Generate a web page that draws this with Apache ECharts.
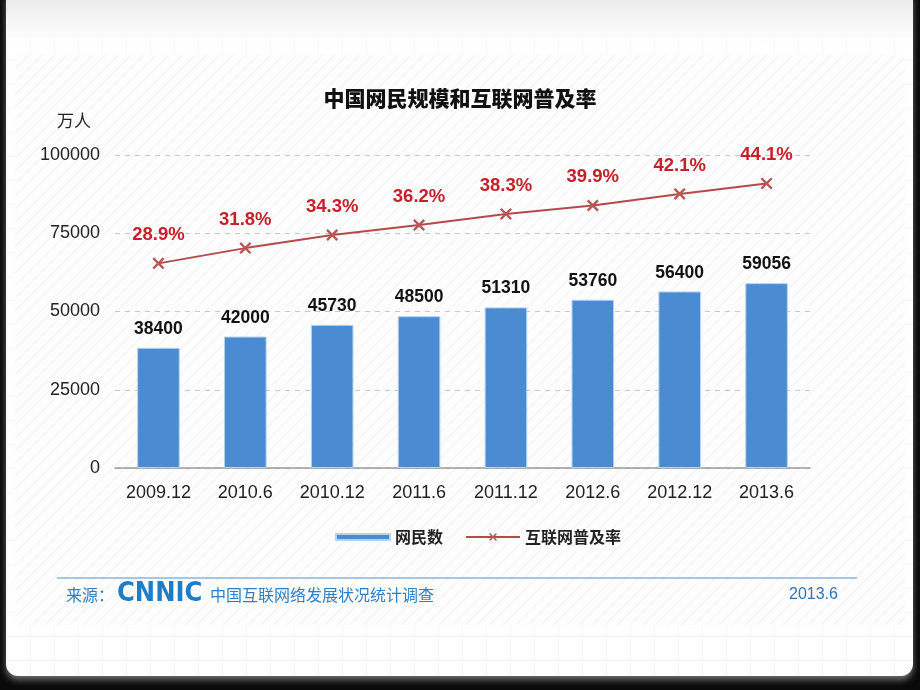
<!DOCTYPE html>
<html><head><meta charset="utf-8">
<script src="https://cdn.jsdelivr.net/npm/echarts@6/dist/echarts.min.js"></script>
<style>
html,body{margin:0;padding:0;width:920px;height:690px;background:#0a0a0a;overflow:hidden;}
#page{position:absolute;left:6px;top:-12px;width:907px;height:688px;border-radius:12px;
 background-color:#fff;
 background-image:linear-gradient(to bottom,#e6e6e6 0px,#fbfbfb 45px,rgba(255,255,255,0) 60px),
  linear-gradient(to right,rgba(0,0,0,0.035) 1px,transparent 1px),
  linear-gradient(to bottom,rgba(0,0,0,0.035) 1px,transparent 1px);
 background-size:100% 100%,24px 24px,24px 24px;
 box-shadow:0 4px 6px rgba(120,120,120,0.9);}
#panel{position:absolute;left:15px;top:55px;width:890px;height:570px;
 background:repeating-linear-gradient(135deg,rgba(0,0,0,0.018) 0px,rgba(0,0,0,0.018) 2px,transparent 2px,transparent 9px),#fdfdfd;}
#chart{position:absolute;left:0;top:0;width:920px;height:690px;}
</style></head>
<body>
<div id="page"></div>
<div id="panel"></div>
<div id="chart"></div>
<script>
const categories = ['2009.12','2010.6','2010.12','2011.6','2011.12','2012.6','2012.12','2013.6'];
const netizens = [38400,42000,45730,48500,51310,53760,56400,59056];
const penetration = [28.9,31.8,34.3,36.2,38.3,39.9,42.1,44.1];
const yTicks = [0,25000,50000,75000,100000];

const cn = '"Noto Sans CJK SC","Noto Sans",sans-serif';
const lat = '"Liberation Sans",Arial,"Noto Sans CJK SC",sans-serif';
const xPath = 'path://M0,1.4L1.4,0L5,3.6L8.6,0L10,1.4L6.4,5L10,8.6L8.6,10L5,6.4L1.4,10L0,8.6L3.6,5Z';

const chart = echarts.init(document.getElementById('chart'));
chart.setOption({
  backgroundColor: 'transparent',
  animation: false,
  title: {
    text: '中国网民规模和互联网普及率', left: 'center', top: 83,
    textStyle: {fontFamily: cn, fontSize: 21, fontWeight: 900, color: '#111'}
  },
  legend: {
    top: 524, left: 330, itemGap: 22, itemWidth: 54, itemHeight: 10,
    textStyle: {fontFamily: cn, fontSize: 16, fontWeight: 'bold', color: '#222'},
    data: [
      {name: '网民数', icon: 'path://M0,3L54,3L54,9L0,9Z', itemStyle: {color: '#4a8bd1'}},
      {name: '互联网普及率'}
    ]
  },
  grid: {left: 115, right: 110, top: 155, bottom: 222},
  xAxis: {
    type: 'category', data: categories,
    axisLine: {lineStyle: {color: '#9a9a9a', width: 1.5}},
    axisTick: {inside: true, length: 4, lineStyle: {color: '#9a9a9a'}},
    axisLabel: {fontFamily: lat, fontSize: 18, color: '#222', margin: 16}
  },
  yAxis: [{
    type: 'value', min: yTicks[0], max: yTicks[yTicks.length-1], interval: 25000,
    axisLine: {show: false}, axisTick: {show: false},
    axisLabel: {fontFamily: lat, fontSize: 18, color: '#222', margin: 15, formatter: v => String(v)},
    splitLine: {lineStyle: {type: [5,5], color: '#c8c8c8'}}
  },{
    type: 'value', min: -10, max: 49.5, show: false, splitLine: {show: false}
  }],
  series: [{
    name: '网民数', type: 'bar', data: netizens, barWidth: '49%',
    itemStyle: {color: '#4a8bd1', borderColor: '#b5d2ef', borderWidth: 1},
    label: {show: true, position: 'top', distance: 10, fontFamily: lat, fontSize: 17.5, fontWeight: 'bold', color: '#111'}
  },{
    name: '互联网普及率', type: 'line', yAxisIndex: 1, data: penetration,
    symbol: xPath, symbolSize: 12,
    lineStyle: {color: '#b54a4a', width: 2},
    itemStyle: {color: '#b85555'},
    label: {show: true, position: 'top', distance: 13, formatter: '{c}%', fontFamily: lat, fontSize: 18.5, fontWeight: 'bold', color: '#c8202a'}
  }],
  graphic: [
    {type: 'text', left: 57, top: 112, style: {text: '万人', fontFamily: cn, fontSize: 17, fill: '#222'}},
    {type: 'line', shape: {x1: 57, y1: 578, x2: 857, y2: 578}, style: {stroke: '#86b4dc', lineWidth: 1.5}},
    {type: 'text', left: 66, top: 587, style: {text: '来源：', fontFamily: cn, fontSize: 16, fill: '#2f80c4'}},
    {type: 'text', left: 117, top: 580, style: {text: 'CNNIC', fontFamily: '"DejaVu Sans Condensed","DejaVu Sans",sans-serif', fontSize: 27, fontWeight: 'bold', fill: '#1f7cc6'}},
    {type: 'text', left: 210, top: 587, style: {text: '中国互联网络发展状况统计调查', fontFamily: cn, fontSize: 16, fill: '#2f80c4'}},
    {type: 'text', left: 789, top: 587, style: {text: '2013.6', fontFamily: lat, fontSize: 16, fill: '#2f74b4'}}
  ]
});
</script>
</body></html>
